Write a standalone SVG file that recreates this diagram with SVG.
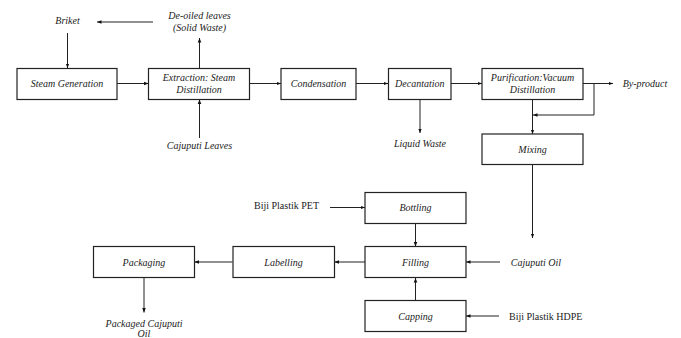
<svg xmlns="http://www.w3.org/2000/svg" width="681" height="338" viewBox="0 0 681 338">
<defs>
<marker id="ah" viewBox="0 0 10 10" refX="10" refY="5" markerWidth="4.5" markerHeight="4.5" orient="auto" markerUnits="userSpaceOnUse">
<path d="M0,1 L10,5 L0,9 z" fill="#111"/>
</marker>
<style>
.box{fill:#fff;stroke:#222;stroke-width:1.2}
.t{font-family:"Liberation Serif","Times New Roman",serif;font-style:italic;font-size:10px;fill:#222;text-anchor:middle}
.u{font-family:"Liberation Serif","Times New Roman",serif;font-size:10px;fill:#222}
.c{fill:none;stroke:#222;stroke-width:1}
.a{marker-end:url(#ah)}
</style>
</defs>
<rect width="681" height="338" fill="#fff"/>
<g id="connectors">
<path class="c a" d="M153,22 H97"/>
<path class="c a" d="M67.5,33 V68"/>
<path class="c a" d="M117,83.5 H148.5"/>
<path class="c a" d="M199.5,68 V38"/>
<path class="c a" d="M199.5,138 V99.5"/>
<path class="c a" d="M249.5,83.5 H281"/>
<path class="c a" d="M356,83.5 H388"/>
<path class="c a" d="M420,99.5 V133"/>
<path class="c a" d="M451,83.5 H482"/>
<path class="c a" d="M583,83.5 H613"/>
<path class="c a" d="M594,83.5 V115 H533"/>
<path class="c a" d="M532.5,99.5 V134"/>
<path class="c a" d="M532.5,164.5 V238"/>
<path class="c a" d="M330,207.5 H365"/>
<path class="c a" d="M415.5,223.5 V246.5"/>
<path class="c a" d="M500,262 H466"/>
<path class="c a" d="M415.5,300.5 V278"/>
<path class="c a" d="M499,316 H466"/>
<path class="c a" d="M365,262 H334.5"/>
<path class="c a" d="M232.5,262 H194.5"/>
<path class="c a" d="M144,278 V312.5"/>
</g>
<g id="briket"><text class="t" x="67.5" y="23.5">Briket</text></g>
<g id="deoiled"><text class="t" x="199.5" y="18.5">De-oiled leaves</text><text class="t" x="199.5" y="31">(Solid Waste)</text></g>
<g id="steam-generation"><rect class="box" x="17" y="68.5" width="100" height="31"/><text class="t" x="67" y="87">Steam Generation</text></g>
<g id="extraction"><rect class="box" x="148.5" y="68.5" width="101" height="31"/><text class="t" x="199" y="81">Extraction: Steam</text><text class="t" x="199" y="93">Distillation</text></g>
<g id="cajuputi-leaves"><text class="t" x="199.5" y="149">Cajuputi Leaves</text></g>
<g id="condensation"><rect class="box" x="281" y="68.5" width="75" height="31"/><text class="t" x="318.5" y="87">Condensation</text></g>
<g id="decantation"><rect class="box" x="388.5" y="68.5" width="62.5" height="31"/><text class="t" x="419.8" y="87">Decantation</text></g>
<g id="liquid-waste"><text class="t" x="420" y="147">Liquid Waste</text></g>
<g id="purification"><rect class="box" x="482" y="68.5" width="101" height="31"/><text class="t" x="532.5" y="81">Purification:Vacuum</text><text class="t" x="532.5" y="93">Distillation</text></g>
<g id="by-product"><text class="t" x="645" y="87">By-product</text></g>
<g id="mixing"><rect class="box" x="482" y="134" width="101" height="30.5"/><text class="t" x="532.5" y="153">Mixing</text></g>
<g id="pet"><text class="u" x="254" y="209">Biji Plastik PET</text></g>
<g id="bottling"><rect class="box" x="365" y="192.5" width="101" height="31"/><text class="t" x="415.5" y="211">Bottling</text></g>
<g id="filling"><rect class="box" x="365" y="246.5" width="101" height="31"/><text class="t" x="415.5" y="265.5">Filling</text></g>
<g id="cajuputi-oil"><text class="t" x="536" y="265.5">Cajuputi Oil</text></g>
<g id="capping"><rect class="box" x="365" y="300.5" width="101" height="31"/><text class="t" x="415.5" y="319.5">Capping</text></g>
<g id="hdpe"><text class="u" x="509" y="319.5">Biji Plastik HDPE</text></g>
<g id="labelling"><rect class="box" x="233" y="246.5" width="101.5" height="31"/><text class="t" x="283.5" y="265.5">Labelling</text></g>
<g id="packaging"><rect class="box" x="93.5" y="246.5" width="101" height="31"/><text class="t" x="144" y="265.5">Packaging</text></g>
<g id="packaged-oil"><text class="t" x="144" y="326.5">Packaged Cajuputi</text><text class="t" x="144" y="336.5">Oil</text></g>
</svg>
